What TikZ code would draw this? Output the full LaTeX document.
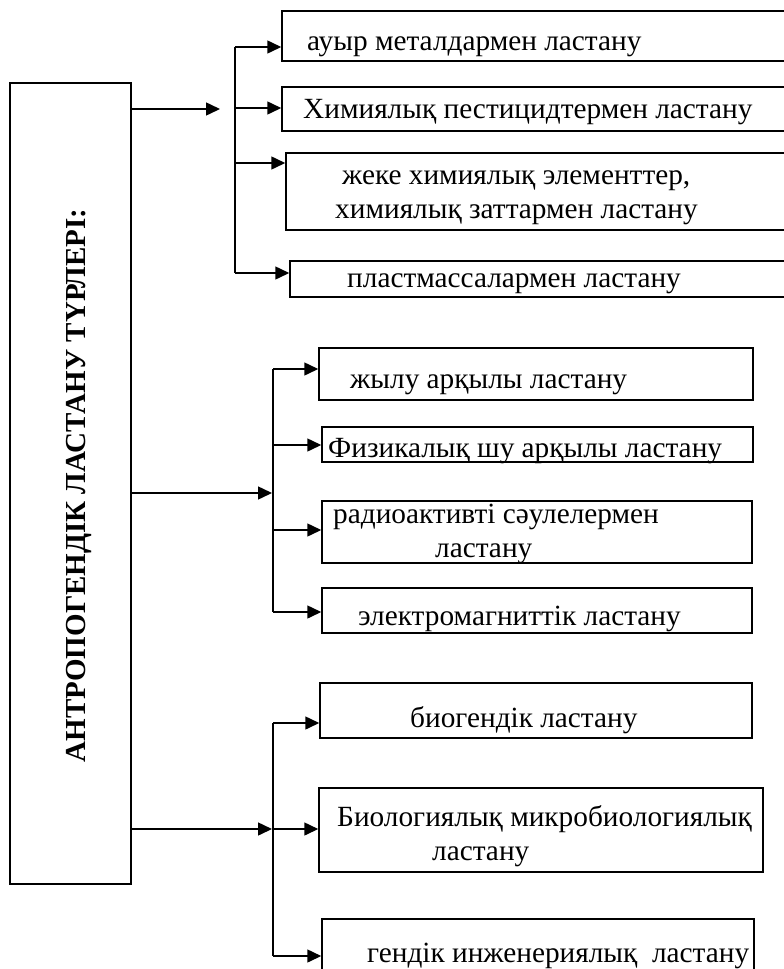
\documentclass[tikz,border=0pt]{standalone}
\usepackage{fontspec}
\setmainfont{Liberation Serif}
\usetikzlibrary{arrows.meta,fit}
\begin{document}
\begin{tikzpicture}[x=1pt,y=1pt,
  box/.style={draw, line width=1.5pt, inner sep=0pt},
  lbox/.style={draw, line width=1.4pt, inner sep=0pt},
  txt/.style={anchor=base west, inner sep=0pt, font=\fontsize{29.3}{33.5}\selectfont, align=left},
  ttl/.style={rotate=90, anchor=base, inner sep=0pt, font=\fontsize{29}{34}\selectfont\bfseries},
  bus/.style={line width=1.5pt},
  arr/.style={line width=1.5pt, -{Triangle[length=14pt,width=13pt]}}]
\clip (0,0) rectangle (784,-969);
\fill[white] (0,0) rectangle (784,-969);
% left box
\node[lbox, fit={(10,-83) (131,-884)}] (L) {};
\node[ttl] (Lt) at (85,-485.5) {АНТРОПОГЕНДІК ЛАСТАНУ ТҮРЛЕРІ:};
% top group boxes
\node[box, fit={(282,-11) (792,-61)}] (b1) {};
\node[box, fit={(282,-87) (792,-131)}] (b2) {};
\node[box, fit={(286,-153) (792,-230)}] (b3) {};
\node[box, fit={(290,-261) (792,-297)}] (b4) {};
\node[txt] (t1) at (307,-50) {ауыр металдармен ластану};
\node[txt] (t2) at (303,-118) {Химиялық пестицидтермен ластану};
\node[txt] (t3) at (335,-218) {\hspace*{7pt}жеке химиялық элементтер,\\химиялық заттармен ластану};
\node[txt] (t4) at (347,-287) {пластмассалармен ластану};
% middle group boxes
\node[box, fit={(319,-348) (753,-400)}] (b5) {};
\node[box, fit={(322,-427) (753,-462)}] (b6) {};
\node[box, fit={(322,-501) (752,-563)}] (b7) {};
\node[box, fit={(322,-588) (752,-633)}] (b8) {};
\node[txt] (t5) at (350,-388) {жылу арқылы ластану};
\node[txt] (t6) at (328,-457) {Физикалық шу арқылы ластану};
\node[txt] (t7) at (333,-557) {радиоактивті сәулелермен\\\hspace*{102pt}ластану};
\node[txt] (t8) at (358,-625) {электромагниттік ластану};
% bottom group boxes
\node[box, fit={(320,-683) (752,-738)}] (b9) {};
\node[box, fit={(319,-788) (763,-872)}] (b10) {};
\node[box, fit={(322,-919) (754,-985)}] (b11) {};
\node[txt] (t9) at (410,-727) {биогендік ластану};
\node[txt] (t10) at (337,-860) {Биологиялық микробиологиялық\\\hspace*{95pt}ластану};
\node[txt] (t11) at (367,-962) {гендік инженериялық\ \ ластану};
% bus coordinates
\coordinate (u1) at (235,-47);
\coordinate (u2) at (235,-108);
\coordinate (u3) at (235,-163);
\coordinate (u4) at (235,-273);
\coordinate (m1) at (273,-369);
\coordinate (m2) at (273,-445);
\coordinate (m3) at (273,-530);
\coordinate (m4) at (273,-612);
\coordinate (d1) at (273,-723);
\coordinate (d2) at (273,-829);
\coordinate (d3) at (273,-956);
\coordinate (a1) at (220,-109);
\coordinate (a2) at (272,-493);
\coordinate (a3) at (272,-829);
% main arrows
\draw[arr] (a1 -| L.east) -- (a1);
\draw[arr] (a2 -| L.east) -- (a2);
\draw[arr] (a3 -| L.east) -- (a3);
% buses
\draw[bus] (u1) -- (u4);
\draw[bus] (m1) -- (m4);
\draw[bus] (d1) -- (d3);
% branch arrows
\draw[arr] (u1) -- (u1 -| b1.west);
\draw[arr] (u2) -- (u2 -| b2.west);
\draw[arr] (u3) -- (u3 -| b3.west);
\draw[arr] (u4) -- (u4 -| b4.west);
\draw[arr] (m1) -- (m1 -| b5.west);
\draw[arr] (m2) -- (m2 -| b6.west);
\draw[arr] (m3) -- (m3 -| b7.west);
\draw[arr] (m4) -- (m4 -| b8.west);
\draw[arr] (d1) -- (d1 -| b9.west);
\draw[arr] (d2) -- (d2 -| b10.west);
\draw[arr] (d3) -- (d3 -| b11.west);
\end{tikzpicture}
\end{document}
